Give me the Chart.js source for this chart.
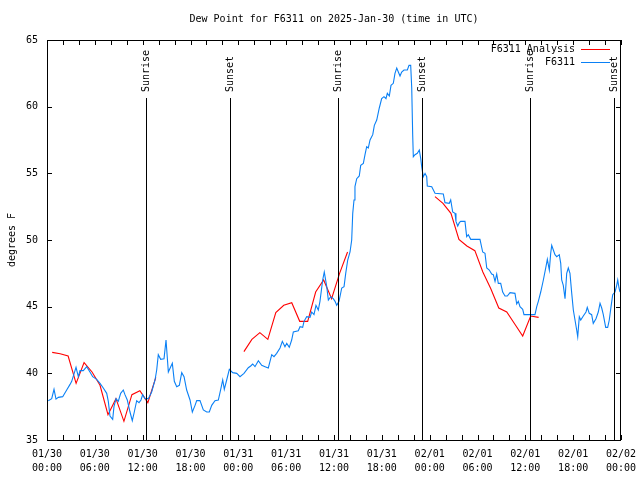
<!DOCTYPE html>
<html>
<head>
<meta charset="utf-8">
<script src="https://cdn.jsdelivr.net/npm/chart.js@4.4.1/dist/chart.umd.min.js"></script>
<style>
  html, body { margin: 0; padding: 0; background: #fff; }
</style>
</head>
<body>
<canvas id="dewChart" width="640" height="480"></canvas>
<script>
// hours since 2025-01-30 00:00 UTC
const obsHours = [
  0.16, 0.59, 0.88, 1.13, 1.42, 1.97, 2.47, 2.89, 3.1, 3.64,
  3.93, 4.14, 4.55, 4.98, 5.39, 5.73, 6.23, 6.65, 7.06, 7.49,
  7.69, 7.9, 8.24, 8.4, 8.66, 8.94, 9.24, 9.57, 9.78, 10.07,
  10.41, 10.7, 10.95, 11.25, 11.54, 11.79, 12.0, 12.29, 12.71, 13.13,
  13.55, 13.76, 13.96, 14.26, 14.68, 14.93, 15.22, 15.52, 15.72, 15.97,
  16.27, 16.6, 16.9, 17.19, 17.52, 17.94, 18.23, 18.57, 18.78, 19.19,
  19.61, 20.03, 20.36, 20.66, 21.07, 21.49, 21.79, 22.04, 22.24, 22.54,
  22.87, 23.29, 23.8, 24.21, 24.71, 25.25, 25.55, 25.8, 26.09, 26.51,
  26.93, 27.35, 27.76, 28.19, 28.47, 28.81, 29.23, 29.52, 29.85, 30.07,
  30.39, 30.69, 30.9, 31.52, 31.74, 32.07, 32.24, 32.58, 32.99, 33.2,
  33.49, 33.74, 34.03, 34.24, 34.58, 34.78, 35.09, 35.29, 35.59, 35.91,
  36.13, 36.34, 36.63, 36.97, 37.26, 37.47, 37.72, 38.01, 38.22, 38.35,
  38.51, 38.63, 38.85, 39.17, 39.35, 39.68, 39.89, 40.1, 40.3, 40.52,
  40.86, 41.06, 41.36, 41.68, 41.98, 42.27, 42.52, 42.69, 42.94, 43.15,
  43.44, 43.65, 43.87, 44.07, 44.28, 44.49, 44.78, 45.2, 45.41, 45.62,
  45.75, 45.87, 45.95, 46.16, 46.45, 46.7, 46.88, 47.0, 47.2, 47.42,
  47.63, 47.7, 48.26, 48.67, 49.71, 49.92, 50.46, 50.64, 50.89, 51.18,
  51.3, 51.52, 51.72, 51.89, 52.43, 52.64, 52.85, 53.15, 54.31, 54.65,
  54.94, 55.16, 55.48, 55.78, 55.98, 56.2, 56.41, 56.61, 56.91, 57.16,
  57.45, 57.74, 58.08, 58.7, 58.92, 59.12, 59.33, 59.67, 59.83, 61.21,
  61.43, 61.63, 61.93, 62.26, 62.59, 62.76, 63.01, 63.18, 63.31, 63.51,
  63.72, 63.94, 64.26, 64.44, 64.56, 64.76, 64.98, 65.19, 65.39, 65.6,
  65.82, 66.02, 66.23, 66.44, 66.57, 66.77, 66.95, 67.27, 67.61, 67.77,
  68.02, 68.32, 68.52, 68.86, 69.15, 69.37, 69.58, 69.78, 70.08, 70.33,
  70.53, 70.75, 70.96, 71.25, 71.46, 71.59, 71.75, 71.88
];
const obsDew = [
  37.95, 38.1, 38.8, 38.07, 38.2, 38.25, 38.75, 39.17, 39.4, 40.45,
  39.75, 40.2, 40.2, 40.5, 40.1, 39.75, 39.55, 39.25, 38.9, 38.5,
  37.9, 36.8, 36.55, 37.5, 38.1, 37.9, 38.5, 38.75, 38.4, 38.0,
  37.1, 36.45, 37.1, 37.95, 37.8, 38.0, 38.4, 38.1, 38.1, 38.6,
  39.5, 40.25, 41.4, 41.05, 41.1, 42.5, 40.1, 40.5, 40.75, 39.4,
  39.0, 39.1, 40.05, 39.75, 38.75, 38.0, 37.1, 37.6, 37.95, 37.95,
  37.25, 37.1, 37.1, 37.6, 37.95, 38.0, 38.8, 39.5, 38.8, 39.5,
  40.3, 40.05, 40.0, 39.75, 40.0, 40.42, 40.55, 40.7, 40.5, 40.95,
  40.6, 40.5, 40.4, 41.4, 41.25, 41.5, 41.9, 42.4, 42.0, 42.25,
  41.95, 42.5, 43.1, 43.2, 43.5, 43.45, 43.9, 44.25, 44.2, 44.6,
  44.4, 45.1, 44.75, 45.4, 47.0, 47.6, 46.5, 45.5, 45.75, 45.6,
  45.4, 45.1, 45.4, 46.4, 46.5, 47.5, 48.5, 49.1, 50.0, 52.0,
  53.0, 54.0, 54.6, 54.8, 55.6, 55.75, 56.4, 57.0, 56.9, 57.5,
  57.9, 58.6, 59.0, 59.9, 60.6, 60.75, 60.6, 61.0, 60.8, 61.6,
  61.75, 62.5, 62.9, 62.6, 62.3, 62.6, 62.75, 62.75, 63.1, 63.1,
  61.4, 57.9, 56.25, 56.4, 56.5, 56.75, 56.1, 55.5, 54.75, 55.0,
  54.75, 54.05, 54.0, 53.5, 53.45, 52.8, 52.75, 53.0, 52.1, 52.0,
  51.4, 51.05, 51.3, 51.4, 51.4, 50.25, 50.4, 50.05, 50.05, 49.1,
  49.0, 47.9, 47.75, 47.45, 47.4, 46.9, 47.45, 46.75, 46.75, 46.1,
  45.8, 45.8, 46.05, 46.0, 45.2, 45.4, 45.0, 44.8, 44.4, 44.4,
  45.0, 45.4, 46.1, 47.0, 48.0, 48.55, 47.75, 49.0, 49.6, 49.25,
  48.9, 48.75, 48.9, 48.25, 47.0, 46.6, 45.6, 47.5, 47.9, 47.5,
  46.0, 44.75, 44.0, 43.25, 42.75, 44.25, 44.0, 44.3, 44.6, 44.95,
  44.5, 44.4, 43.75, 44.1, 44.6, 45.25, 44.9, 44.4, 43.45, 43.45,
  44.0, 45.0, 45.9, 46.1, 46.6, 47.0, 46.4, 46.1
];

// analysis runs (hourly)
const anaHours1 = [0.65, 1.65, 2.65, 3.65, 4.65, 5.65, 6.65, 7.65, 8.65, 9.65, 10.65, 11.65, 12.65, 13.65];
const anaDew1 = [41.57, 41.47, 41.3, 39.25, 40.8, 40.1, 39.1, 36.9, 38.1, 36.4, 38.4, 38.7, 37.8, 39.7];
const anaHours2 = [24.7, 25.7, 26.7, 27.7, 28.7, 29.7, 30.7, 31.7, 32.7, 33.7, 34.7, 35.7, 36.7, 37.7];
const anaDew2 = [41.63, 42.55, 43.05, 42.55, 44.55, 45.1, 45.3, 43.9, 43.9, 46.1, 47.0, 45.6, 47.5, 49.1];
const anaHours3 = [48.67, 49.67, 50.67, 51.67, 52.67, 53.67, 54.67, 55.67, 56.67, 57.67, 58.67, 59.67, 60.67, 61.67];
const anaDew3 = [53.25, 52.75, 52.0, 50.05, 49.55, 49.2, 47.6, 46.35, 44.9, 44.6, 43.7, 42.8, 44.3, 44.2];

const sunriseHours = [12.42, 36.46, 60.55];
const sunsetHours = [22.96, 47.05, 71.14];

const xTickHours = [0, 6, 12, 18, 24, 30, 36, 42, 48, 54, 60, 66, 72];
const xTickLabels = [
  ["01/30", "00:00"], ["01/30", "06:00"], ["01/30", "12:00"], ["01/30", "18:00"],
  ["01/31", "00:00"], ["01/31", "06:00"], ["01/31", "12:00"], ["01/31", "18:00"],
  ["02/01", "00:00"], ["02/01", "06:00"], ["02/01", "12:00"], ["02/01", "18:00"],
  ["02/02", "00:00"]
];

const FONT = "'DejaVu Sans Mono', monospace";
const RED = "#ff0000";
const BLUE = "#0a80f5";

function toPoints(xs, ys) {
  return xs.map((x, i) => ({ x: x, y: ys[i] }));
}

const anaPoints = toPoints(anaHours1, anaDew1)
  .concat([{ x: 19, y: null }])
  .concat(toPoints(anaHours2, anaDew2))
  .concat([{ x: 43, y: null }])
  .concat(toPoints(anaHours3, anaDew3));

// border, inward ticks, sun markers, title, legend
const gnuplotLook = {
  id: "gnuplotLook",
  afterDatasetsDraw(chart) {
    const ctx = chart.ctx;
    const a = chart.chartArea;
    const xs = chart.scales.x;
    const ys = chart.scales.y;
    ctx.save();
    ctx.strokeStyle = "#000";
    ctx.lineWidth = 1;

    // sunrise / sunset lines
    ctx.font = "10px " + FONT;
    ctx.fillStyle = "#000";
    const marks = sunriseHours.map(h => [h, "Sunrise"]).concat(sunsetHours.map(h => [h, "Sunset"]));
    marks.forEach(([h, label]) => {
      const px = Math.round(xs.getPixelForValue(h)) + 0.5;
      ctx.beginPath();
      ctx.moveTo(px, a.bottom);
      ctx.lineTo(px, 98);
      ctx.stroke();
      ctx.save();
      ctx.translate(px, 92);
      ctx.rotate(-Math.PI / 2);
      ctx.textAlign = "left";
      ctx.textBaseline = "middle";
      ctx.fillText(label, 0, 0);
      ctx.restore();
    });

    // ticks
    ctx.beginPath();
    for (let h = 0; h <= 72; h += 2) {
      const px = Math.round(xs.getPixelForValue(h)) + 0.5;
      ctx.moveTo(px, a.bottom);
      ctx.lineTo(px, a.bottom - 5);
      ctx.moveTo(px, a.top);
      ctx.lineTo(px, a.top + 5);
    }
    for (let v = 35; v <= 65; v += 5) {
      const py = Math.round(ys.getPixelForValue(v)) + 0.5;
      ctx.moveTo(a.left, py);
      ctx.lineTo(a.left + 5, py);
      ctx.moveTo(a.right, py);
      ctx.lineTo(a.right - 5, py);
    }
    ctx.stroke();
    ctx.strokeRect(Math.round(a.left) + 0.5, Math.round(a.top) + 0.5,
      Math.round(a.right - a.left) - 1, Math.round(a.bottom - a.top));

    // title
    ctx.textAlign = "center";
    ctx.textBaseline = "middle";
    ctx.fillText("Dew Point for F6311 on 2025-Jan-30 (time in UTC)", (a.left + a.right) / 2, 19);

    // legend
    ctx.textAlign = "right";
    ctx.fillText("F6311 Analysis", 575, 49);
    ctx.fillText("F6311", 575, 62);
    ctx.strokeStyle = RED;
    ctx.beginPath();
    ctx.moveTo(581, 49.5);
    ctx.lineTo(610, 49.5);
    ctx.stroke();
    ctx.strokeStyle = BLUE;
    ctx.beginPath();
    ctx.moveTo(581, 62.5);
    ctx.lineTo(610, 62.5);
    ctx.stroke();
    ctx.restore();
  }
};

const ctx = document.getElementById("dewChart").getContext("2d");
new Chart(ctx, {
  type: "line",
  data: {
    datasets: [
      {
        label: "F6311 Analysis",
        data: anaPoints,
        borderColor: RED,
        borderWidth: 1.1,
        pointRadius: 0,
        spanGaps: false,
        order: 2
      },
      {
        label: "F6311",
        data: toPoints(obsHours, obsDew),
        borderColor: BLUE,
        borderWidth: 1.1,
        pointRadius: 0,
        order: 1
      }
    ]
  },
  options: {
    responsive: false,
    animation: false,
    devicePixelRatio: 1,
    layout: { padding: { top: 40, right: 19, left: 0, bottom: 0 } },
    plugins: {
      legend: { display: false },
      tooltip: { enabled: false },
      title: { display: false }
    },
    scales: {
      x: {
        type: "linear",
        min: 0,
        max: 72,
        afterFit: s => { s.height = 40; s.paddingLeft = 0; s.paddingRight = 0; },
        grid: { display: false, drawTicks: false },
        border: { display: false },
        ticks: {
          stepSize: 2,
          autoSkip: false,
          maxRotation: 0,
          padding: 7,
          color: "#000",
          font: { family: FONT, size: 10, lineHeight: 1.4 },
          callback: v => {
            const i = xTickHours.indexOf(v);
            return i >= 0 ? xTickLabels[i] : "";
          }
        }
      },
      y: {
        min: 35,
        max: 65,
        afterFit: s => { s.width = 47; },
        grid: { display: false, drawTicks: false },
        border: { display: false },
        title: {
          display: true,
          text: "degrees F",
          color: "#000",
          font: { family: FONT, size: 10 },
          padding: { top: 6, bottom: 0 }
        },
        ticks: {
          stepSize: 5,
          padding: 9,
          color: "#000",
          font: { family: FONT, size: 10 }
        }
      }
    }
  },
  plugins: [gnuplotLook]
});
</script>
</body>
</html>
